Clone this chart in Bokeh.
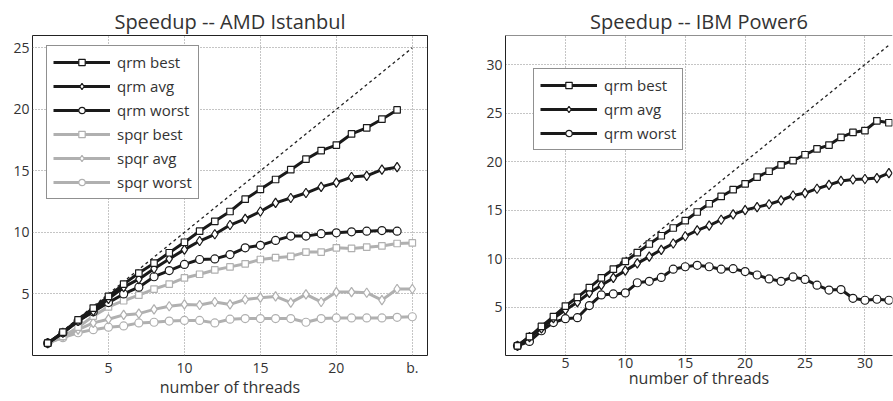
from bokeh.plotting import figure
from bokeh.layouts import row
from bokeh.models import FixedTicker, Legend, LegendItem, Range1d, Span
from bokeh.embed import file_html
from bokeh.resources import INLINE

# ---------------- data ----------------
amd_threads_qrm = list(range(1, 25))
amd_threads_spqr = list(range(1, 26))
amd_qrm_best = [1, 1.9, 2.9, 3.85, 4.8, 5.8, 6.7, 7.5, 8.35, 9.2, 10.1, 10.9, 11.7, 12.7, 13.5, 14.3,
                15.1, 15.95, 16.65, 17.1, 18.0, 18.5, 19.2, 19.95]
amd_qrm_avg = [1, 1.85, 2.8, 3.6, 4.6, 5.55, 6.2, 7.05, 7.85, 8.6, 9.3, 9.85, 10.6, 11.1, 11.7, 12.4,
               12.8, 13.2, 13.7, 14.05, 14.5, 14.6, 15.1, 15.3]
amd_qrm_worst = [1, 1.85, 2.8, 3.55, 4.3, 5.0, 5.55, 6.4, 6.9, 7.4, 7.8, 7.85, 8.2, 8.75, 8.95, 9.35,
                 9.7, 9.7, 9.9, 9.97, 10.05, 10.1, 10.15, 10.1]
amd_spqr_best = [1, 1.55, 2.3, 3.2, 3.95, 4.45, 4.9, 5.4, 5.8, 6.3, 6.6, 6.95, 7.2, 7.45, 7.8, 7.95,
                 8.05, 8.4, 8.4, 8.75, 8.7, 8.8, 8.9, 9.1, 9.15]
amd_spqr_avg = [1, 1.5, 2.1, 2.65, 2.95, 3.3, 3.4, 3.75, 4.0, 4.15, 4.1, 4.35, 4.15, 4.55, 4.7, 4.8,
                4.3, 4.97, 4.35, 5.15, 5.15, 5.1, 4.5, 5.4, 5.4]
amd_spqr_worst = [1, 1.45, 1.85, 2.1, 2.3, 2.4, 2.65, 2.7, 2.8, 2.85, 2.85, 2.65, 2.95, 3.0, 3.0, 3.0,
                  3.0, 2.7, 3.0, 3.05, 3.05, 3.05, 3.05, 3.1, 3.15]
amd_ideal = [1, 25]

pw_threads = list(range(1, 33))
pw_qrm_best = [1, 1.95, 3.0, 4.0, 5.1, 6.0, 7.0, 8.0, 8.9, 9.7, 10.6, 11.5, 12.35, 13.15, 13.9, 14.8,
               15.65, 16.4, 17.1, 17.7, 18.4, 19.0, 19.65, 20.1, 20.7, 21.3, 21.7, 22.5, 23.0, 23.2,
               24.2, 24.0]
pw_qrm_avg = [1, 1.9, 2.8, 3.85, 4.7, 5.5, 6.45, 7.25, 8.0, 8.75, 9.5, 10.2, 10.9, 11.55, 12.3, 12.9,
              13.4, 14.0, 14.55, 15.0, 15.3, 15.6, 16.0, 16.5, 16.75, 17.2, 17.6, 18.0, 18.15, 18.2,
              18.3, 18.8]
pw_qrm_worst = [1, 1.45, 2.55, 3.4, 3.8, 3.9, 5.15, 6.25, 6.35, 6.45, 7.5, 7.65, 8.05, 8.9, 9.15, 9.3,
                9.15, 8.9, 8.95, 8.65, 8.3, 7.9, 7.65, 8.1, 7.85, 7.25, 6.75, 6.8, 5.9, 5.7, 5.8, 5.7]
pw_ideal = [1, 32]

amd_xticks = [5, 10, 15, 20, 25]
amd_xtick_labels = {25: "b."}
amd_yticks = [5, 10, 15, 20, 25]
pw_xticks = [5, 10, 15, 20, 25, 30]
pw_yticks = [5, 10, 15, 20, 25, 30]

title_amd = "Speedup -- AMD Istanbul"
title_pw = "Speedup -- IBM Power6"
xlabel = "number of threads"

FONT = "Open Sans"
TXT = "#333333"
DARK = "#1a1a1a"
GREY = "#b0b0b0"
H = 401


def base_fig(title, width, xr, yr, xticks, yticks, bl, br, bt, bb):
    p = figure(width=width, height=H, output_backend="svg", toolbar_location=None,
               x_range=Range1d(*xr), y_range=Range1d(*yr),
               min_border_left=bl, min_border_right=br,
               min_border_top=bt, min_border_bottom=bb)
    p.title.text = title
    p.title.align = "center"
    p.title.vertical_align = "middle"
    p.title.text_font = FONT
    p.title.text_font_size = "20px"
    p.title.text_font_style = "normal"
    p.title.text_color = TXT
    p.title.standoff = 0
    p.title.offset = 0
    for ax in (p.xaxis[0], p.yaxis[0]):
        ax.major_label_text_font = FONT
        ax.major_label_text_font_size = "14px"
        ax.major_label_text_color = TXT
        ax.major_tick_out = 0
        ax.major_tick_in = 0
        ax.minor_tick_out = 0
        ax.minor_tick_in = 0
        ax.major_label_standoff = 3
    p.xaxis.major_label_standoff = 2
    p.xaxis.axis_label = xlabel
    p.xaxis.axis_label_text_font = FONT
    p.xaxis.axis_label_text_font_size = "16px"
    p.xaxis.axis_label_text_font_style = "normal"
    p.xaxis.axis_label_text_color = TXT
    p.xaxis.axis_label_standoff = -4
    p.xaxis.ticker = FixedTicker(ticks=xticks)
    p.yaxis.ticker = FixedTicker(ticks=yticks)
    p.xgrid.ticker = FixedTicker(ticks=xticks)
    p.ygrid.ticker = FixedTicker(ticks=yticks)
    for g in (p.xgrid[0], p.ygrid[0]):
        g.grid_line_color = "#8a8a8a"
        g.grid_line_dash = "1 2"
        g.grid_line_width = 1
    p.background_fill_color = "white"
    p.border_fill_color = "white"
    return p


def series(p, x, y, color, marker, size):
    ln = p.line(x, y, line_color=color, line_width=3)
    sc = p.scatter(x, y, marker=marker, size=size, fill_color="white", line_color=color, line_width=1.2)
    return [ln, sc]


def style_legend(leg, loc, spacing):
    leg.location = loc
    leg.label_text_font = FONT
    leg.label_text_font_size = "15px"
    leg.label_text_color = TXT
    leg.border_line_color = "#222222"
    leg.border_line_width = 1
    leg.background_fill_alpha = 1
    leg.glyph_width = 57
    leg.glyph_height = 16
    leg.label_height = 16
    leg.label_standoff = 7
    leg.spacing = spacing
    leg.padding = 6
    leg.margin = 0


# ---------------- left: AMD Istanbul ----------------
p1 = base_fig(title_amd, 445, (0, 26), (0, 26), amd_xticks, amd_yticks, 32, 18, 34, H - 34 - 321)
p1.xaxis.major_label_overrides = amd_xtick_labels
p1.outline_line_color = "#222222"
p1.outline_line_width = 1
p1.xaxis.axis_line_color = None
p1.yaxis.axis_line_color = None
p1.line(amd_ideal, amd_ideal, line_color="#222222", line_width=1.3, line_dash="3 3")

r_sw = series(p1, amd_threads_spqr, amd_spqr_worst, GREY, "circle", 8)
r_sa = series(p1, amd_threads_spqr, amd_spqr_avg, GREY, "diamond", 9.5)
r_sb = series(p1, amd_threads_spqr, amd_spqr_best, GREY, "square", 6.5)
r_qw = series(p1, amd_threads_qrm, amd_qrm_worst, DARK, "circle", 8)
r_qa = series(p1, amd_threads_qrm, amd_qrm_avg, DARK, "diamond", 9.5)
r_qb = series(p1, amd_threads_qrm, amd_qrm_best, DARK, "square", 6.5)

leg1 = Legend(items=[
    LegendItem(label="qrm best", renderers=r_qb),
    LegendItem(label="qrm avg", renderers=r_qa),
    LegendItem(label="qrm worst", renderers=r_qw),
    LegendItem(label="spqr best", renderers=r_sb),
    LegendItem(label="spqr avg", renderers=r_sa),
    LegendItem(label="spqr worst", renderers=r_sw),
])
style_legend(leg1, (14, 156), 4)
p1.add_layout(leg1)

# ---------------- right: IBM Power6 ----------------
p2 = base_fig(title_pw, 448, (0, 32.3), (0, 33), pw_xticks, pw_yticks, 60, 1, 35, H - 35 - 320)
p2.outline_line_color = None
for ax in (p2.xaxis[0], p2.yaxis[0]):
    ax.axis_line_color = "#222222"
    ax.axis_line_width = 1
p2.add_layout(Span(location=33, dimension="width", line_color="#222222", line_width=1))
p2.line(pw_ideal, pw_ideal, line_color="#222222", line_width=1.3, line_dash="3 3")

q_w = series(p2, pw_threads, pw_qrm_worst, DARK, "circle", 8)
q_a = series(p2, pw_threads, pw_qrm_avg, DARK, "diamond", 9.5)
q_b = series(p2, pw_threads, pw_qrm_best, DARK, "square", 6.5)

leg2 = Legend(items=[
    LegendItem(label="qrm best", renderers=q_b),
    LegendItem(label="qrm avg", renderers=q_a),
    LegendItem(label="qrm worst", renderers=q_w),
])
style_legend(leg2, (28, 205), 4)
p2.add_layout(leg2)

layout = row(p1, p2, spacing=0)
open("out.html", "w").write(file_html(layout, INLINE))
